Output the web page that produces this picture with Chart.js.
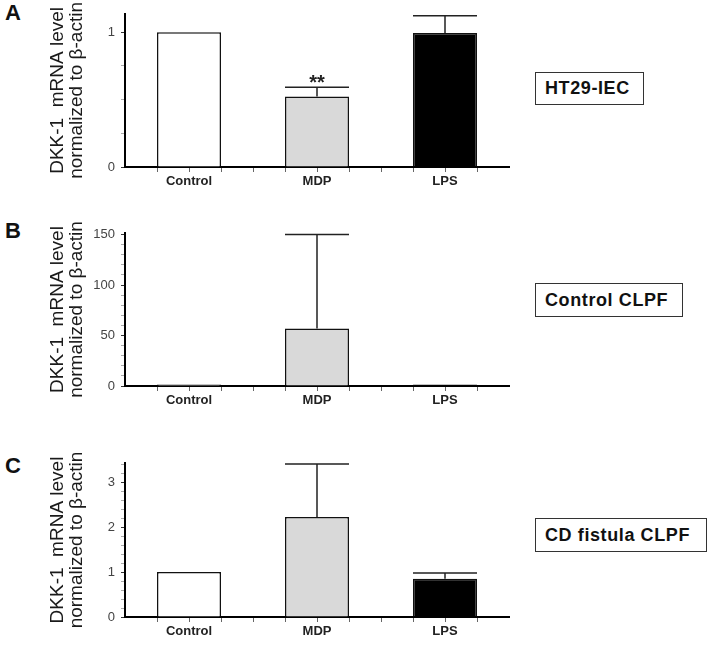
<!DOCTYPE html>
<html>
<head>
<meta charset="utf-8">
<script src="https://cdn.jsdelivr.net/npm/chart.js@4.4.0/dist/chart.umd.min.js"></script>
<style>
body { margin: 0; background: #fff; width: 714px; height: 645px; position: relative; overflow: hidden; font-family: "Liberation Sans", Arial, sans-serif; }
canvas { position: absolute; left: 0; }
.letter { position: absolute; left: 5px; font-weight: bold; font-size: 22px; line-height: 22px; color: #111; }
.tag { position: absolute; left: 535px; border: 1.5px solid #333; box-sizing: border-box; font-weight: bold; font-size: 18px; letter-spacing: 0.6px; color: #111; display: flex; align-items: center; padding-left: 9px; white-space: nowrap; }
</style>
</head>
<body>
<div class="letter" style="top:2px">A</div>
<div class="letter" style="top:220px">B</div>
<div class="letter" style="top:455px">C</div>

<div class="tag" style="top:72px;width:109px;height:33px">HT29-IEC</div>
<div class="tag" style="top:283px;width:148px;height:34px">Control CLPF</div>
<div class="tag" style="top:518px;width:172px;height:34px">CD fistula CLPF</div>

<canvas id="chartA" width="520" height="200" style="top:0px"></canvas>
<canvas id="chartB" width="520" height="200" style="top:215px"></canvas>
<canvas id="chartC" width="520" height="200" style="top:445px"></canvas>

<script>
// values
var categories = ['Control', 'MDP', 'LPS'];
var barColors = ['#ffffff', '#d9d9d9', '#000000'];

var valuesA = [1, 0.524, 0.994];
var errorsA = [0, 0.067, 0.128];
var starsA = ['', '**', ''];

var valuesB = [1.5, 57, 1.5];
var errorsB = [0, 93, 0];
var starsB = ['', '', ''];

var valuesC = [1, 2.23, 0.854];
var errorsC = [0, 1.18, 0.127];
var starsC = ['', '', ''];

var yTitle = ['DKK-1  mRNA level', 'normalized to \u03b2-actin'];

Chart.defaults.font.family = '"Liberation Sans", Arial, sans-serif';

// error bars, significance stars and small x ticks
var errorBars = {
    id: 'errorBars',
    afterDatasetsDraw: function(chart) {
        var ds = chart.data.datasets[0];
        var meta = chart.getDatasetMeta(0);
        var y = chart.scales.y;
        var x = chart.scales.x;
        var ctx = chart.ctx;
        var area = chart.chartArea;
        ctx.save();
        ctx.strokeStyle = '#222';
        ctx.lineWidth = 1.5;
        meta.data.forEach(function(bar, i) {
            var err = ds.errors[i];
            var top = y.getPixelForValue(ds.data[i] + err);
            if (err) {
                var half = bar.width / 2;
                ctx.beginPath();
                ctx.moveTo(bar.x, bar.y);
                ctx.lineTo(bar.x, top);
                ctx.moveTo(bar.x - half, top);
                ctx.lineTo(bar.x + half, top);
                ctx.stroke();
            }
            if (ds.stars[i]) {
                ctx.fillStyle = '#222';
                ctx.font = 'bold 20px "Liberation Sans", Arial';
                ctx.textAlign = 'center';
                ctx.textBaseline = 'alphabetic';
                ctx.fillText(ds.stars[i], bar.x, top + 2);
            }
        });
        ctx.strokeStyle = '#666';
        ctx.lineWidth = 1;
        for (var v = -0.25; v <= 2.26; v += 0.25) {
            var px = Math.round(x.getPixelForValue(v)) + 0.5;
            ctx.beginPath();
            ctx.moveTo(px, area.bottom + 1);
            ctx.lineTo(px, area.bottom + 5);
            ctx.stroke();
        }
        ctx.restore();
    }
};

function isMajor(v, major) {
    var r = v / major;
    return Math.abs(r - Math.round(r)) < 1e-6;
}

function makeChart(id, values, errors, stars, yMax, minor, major, padTop, xHeight) {
    return new Chart(document.getElementById(id), {
        type: 'bar',
        data: {
            labels: categories,
            datasets: [{
                data: values,
                errors: errors,
                stars: stars,
                backgroundColor: barColors,
                borderColor: '#111',
                borderWidth: 1.5,
                barPercentage: 0.5,
                categoryPercentage: 1.0
            }]
        },
        options: {
            responsive: false,
            animation: false,
            layout: { padding: { top: padTop, left: 0, right: 11, bottom: 0 } },
            plugins: { legend: { display: false }, tooltip: { enabled: false } },
            scales: {
                x: {
                    offset: true,
                    grid: { display: false, drawTicks: false },
                    border: { display: true, color: '#000', width: 2 },
                    ticks: { color: '#222', padding: 7, font: { size: 13, weight: 'bold' } },
                    afterFit: function(axis) { axis.height = xHeight; }
                },
                y: {
                    min: 0,
                    max: yMax,
                    grid: {
                        drawOnChartArea: false,
                        drawTicks: true,
                        tickLength: 4,
                        tickWidth: 1,
                        tickColor: function(c) { return isMajor(c.tick.value, major) ? '#333' : '#aaa'; }
                    },
                    border: { display: true, color: '#000', width: 2 },
                    ticks: {
                        stepSize: minor,
                        includeBounds: false,
                        autoSkip: false,
                        padding: 6,
                        color: '#444',
                        font: { size: 13 },
                        callback: function(v) { return isMajor(v, major) ? String(Math.round(v)) : ''; }
                    },
                    title: {
                        display: true,
                        text: yTitle,
                        color: '#1a1a1a',
                        font: { size: 19, lineHeight: 1 },
                        padding: { top: 48, bottom: 0 }
                    },
                    afterFit: function(axis) { axis.width = 125; }
                }
            }
        },
        plugins: [errorBars]
    });
}

makeChart('chartA', valuesA, errorsA, starsA, 1.137, 0.25, 1, 13, 33);
makeChart('chartB', valuesB, errorsB, starsB, 151.5, 10, 50, 18, 29);
makeChart('chartC', valuesC, errorsC, starsC, 3.43, 0.2, 1, 18, 28);
</script>
</body>
</html>
